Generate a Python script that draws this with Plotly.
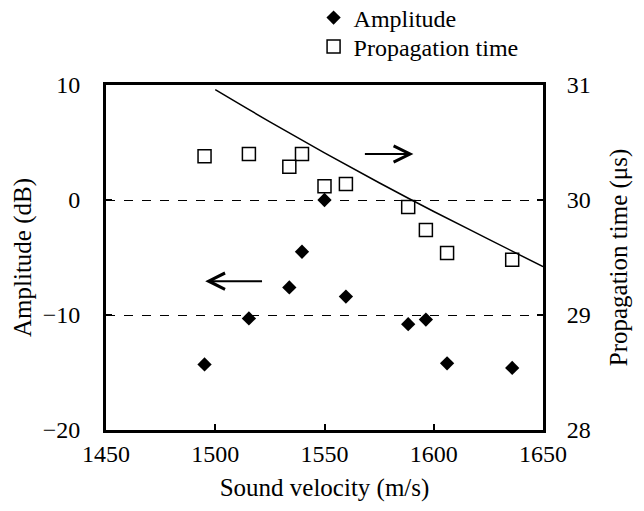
import plotly.graph_objects as go

# Data
velocity = [1495.1, 1515.4, 1533.9, 1539.7, 1550.0, 1559.8, 1588.3, 1596.4, 1606.1, 1635.9]
amplitude = [-14.3, -10.3, -7.6, -4.5, 0.0, -8.4, -10.8, -10.4, -14.2, -14.6]
prop_time = [30.38, 30.40, 30.29, 30.40, 30.12, 30.14, 29.94, 29.74, 29.54, 29.48]

curve_v = [1500, 1525, 1550, 1575, 1600, 1625, 1650]
curve_t = [30.96, 30.68, 30.41, 30.15, 29.90, 29.66, 29.42]

x_ticks = [1450, 1500, 1550, 1600, 1650]
y_ticks = [-20, -10, 0, 10]
y2_ticks = [28, 29, 30, 31]

FONT = "Liberation Serif"

fig = go.Figure()
fig.add_trace(go.Scatter(
    x=velocity, y=amplitude, mode="markers", name="Amplitude", legend="legend",
    marker=dict(symbol="diamond", size=11, color="black"),
))
fig.add_trace(go.Scatter(
    x=velocity, y=prop_time, mode="markers", name="Propagation time", yaxis="y2",
    legend="legend2",
    marker=dict(symbol="square-open", size=13, color="black", line=dict(width=1.5)),
))
fig.add_trace(go.Scatter(
    x=curve_v, y=curve_t, mode="lines", yaxis="y2", showlegend=False,
    line=dict(color="black", width=1.5, shape="spline"),
))

fig.add_annotation(x=1590.7, y=4.0, ax=1567.8, ay=4.0, xref="x", yref="y", axref="x", ayref="y",
                   showarrow=True, arrowhead=5, arrowsize=1.6, arrowwidth=2, arrowcolor="black", text="")
fig.add_annotation(x=1495.4, y=-7.06, ax=1522.1, ay=-7.06, xref="x", yref="y", axref="x", ayref="y",
                   showarrow=True, arrowhead=5, arrowsize=1.6, arrowwidth=2, arrowcolor="black", text="")

axis_common = dict(
    showline=True, linecolor="black", linewidth=3,
    ticks="inside", ticklen=6, tickwidth=2, tickcolor="black",
    tickfont=dict(family=FONT, size=24, color="black"),
    zeroline=False,
)

legend_common = dict(xanchor="left", yanchor="middle",
                     font=dict(family=FONT, size=24, color="black"),
                     bgcolor="rgba(0,0,0,0)", itemwidth=30, borderwidth=0)

fig.update_layout(
    width=644, height=511,
    margin=dict(l=106, r=101, t=85, b=81, autoexpand=False),
    paper_bgcolor="white", plot_bgcolor="white",
    font=dict(family=FONT, size=24, color="black"),
    showlegend=True,
    legend=dict(x=0.475, y=(430 - 18) / 345, **legend_common),
    legend2=dict(x=0.475, y=(430 - 47) / 345, **legend_common),
    xaxis=dict(range=[1450, 1650], tickvals=x_ticks, mirror=True, showgrid=False,
               title=dict(text="Sound velocity (m/s)", standoff=13,
                          font=dict(family=FONT, size=25, color="black")),
               automargin=False, **axis_common),
    yaxis=dict(range=[-20, 10], tickvals=y_ticks, showgrid=True, griddash="dash",
               gridcolor="black", gridwidth=1, ticklabelstandoff=18,
               title=dict(text="Amplitude (dB)", standoff=4,
                          font=dict(family=FONT, size=25, color="black")),
               automargin=False, **axis_common),
    yaxis2=dict(range=[28, 31], tickvals=y2_ticks, overlaying="y", side="right",
                showgrid=False, ticklabelstandoff=16,
                title=dict(text="Propagation time (μs)", standoff=20,
                           font=dict(family=FONT, size=25, color="black")),
                automargin=False, **axis_common),
)

fig.write_html("out.html")
